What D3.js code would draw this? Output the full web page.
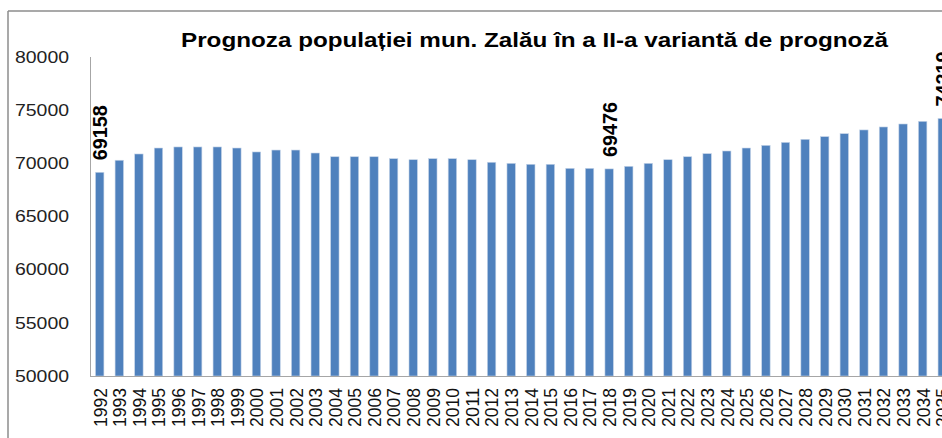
<!DOCTYPE html>
<html>
<head>
<meta charset="utf-8">
<script src="https://cdn.jsdelivr.net/npm/d3@7"></script>
<style>
  body { margin: 0; background: #fff; }
  svg { display: block; font-family: "Liberation Sans", Arial, sans-serif; }
</style>
</head>
<body>
<svg id="chart" width="942" height="438"></svg>
<script>
// years on the x axis
var years = d3.range(1992, 2036).map(String);

// population
var population = [
    69158, 70290, 70880, 71440, 71540, 71540, 71540, 71440, 71070, 71250,
    71250, 70970, 70620, 70620, 70620, 70440, 70340, 70440, 70440, 70340,
    70100, 70000, 69910, 69910, 69530, 69530, 69476, 69720, 70000, 70340,
    70620, 70910, 71160, 71440, 71690, 71970, 72260, 72510, 72790, 73140,
    73420, 73700, 73950, 74219
];

// only these bars carry a value label
var labelled = ["1992", "2018", "2035"];

var yTicks = [50000, 55000, 60000, 65000, 70000, 75000, 80000];

var titleText = "Prognoza populației mun. Zalău în a II-a variantă de prognoză";

var svg = d3.select("#chart");

// frame of the chart area (top and left edges only are visible)
svg.append("line")
    .attr("x1", 8).attr("x2", 942)
    .attr("y1", 11).attr("y2", 11)
    .attr("stroke", "#8c8c8c")
    .attr("stroke-width", 1.5);
svg.append("line")
    .attr("x1", 8).attr("x2", 8)
    .attr("y1", 11).attr("y2", 438)
    .attr("stroke", "#8c8c8c")
    .attr("stroke-width", 1.5);

var x = d3.scaleBand()
    .domain(years)
    .range([90, 90 + years.length * 19.59])
    .paddingInner(0.57)
    .paddingOuter(0.28);

var y = d3.scaleLinear()
    .domain([50000, 80000])
    .range([376, 57]);

// title
svg.append("text")
    .attr("x", 181)
    .attr("y", 47)
    .attr("font-size", 20)
    .attr("font-weight", "bold")
    .attr("fill", "#000")
    .attr("textLength", 707)
    .attr("lengthAdjust", "spacingAndGlyphs")
    .text(titleText);

// y axis labels
svg.append("g")
  .selectAll("text")
  .data(yTicks)
  .enter().append("text")
    .attr("x", 69)
    .attr("y", function(d) { return y(d); })
    .attr("dy", "0.36em")
    .attr("text-anchor", "end")
    .attr("font-size", 16)
    .attr("fill", "#222")
    .attr("textLength", 54)
    .attr("lengthAdjust", "spacingAndGlyphs")
    .text(function(d) { return d; });

// bars
svg.append("g")
  .selectAll("rect")
  .data(population)
  .enter().append("rect")
    .attr("x", function(d, i) { return x(years[i]); })
    .attr("width", x.bandwidth())
    .attr("y", function(d) { return y(d); })
    .attr("height", function(d) { return y(50000) - y(d); })
    .attr("fill", "#4f81bd")
    .attr("stroke", "#c5d4e8")
    .attr("stroke-width", 0.6);

// axis lines
svg.append("line")
    .attr("x1", 90.5).attr("x2", 90.5)
    .attr("y1", 57).attr("y2", 376)
    .attr("stroke", "#a6a6a6");
svg.append("line")
    .attr("x1", 90).attr("x2", 942)
    .attr("y1", 376.5).attr("y2", 376.5)
    .attr("stroke", "#a6a6a6");

// year labels, vertical
svg.append("g")
  .selectAll("text")
  .data(years)
  .enter().append("text")
    .attr("transform", function(d) {
        return "translate(" + (x(d) + x.bandwidth() / 2) + ",388) scale(1.12,1) rotate(-90)";
    })
    .attr("dy", "0.36em")
    .attr("text-anchor", "end")
    .attr("font-size", 17)
    .attr("fill", "#111")
    .attr("textLength", 39)
    .attr("lengthAdjust", "spacingAndGlyphs")
    .text(function(d) { return d; });

// value labels
svg.append("g")
  .selectAll("text")
  .data(labelled)
  .enter().append("text")
    .attr("transform", function(d) {
        var v = population[years.indexOf(d)];
        return "translate(" + (x(d) + x.bandwidth() / 2) + "," + (y(v) - 12) + ") scale(1.15,1) rotate(-90)";
    })
    .attr("dy", "0.36em")
    .attr("font-size", 18)
    .attr("font-weight", "bold")
    .attr("fill", "#000")
    .attr("textLength", 55)
    .attr("lengthAdjust", "spacingAndGlyphs")
    .text(function(d) { return population[years.indexOf(d)]; });
</script>
</body>
</html>
